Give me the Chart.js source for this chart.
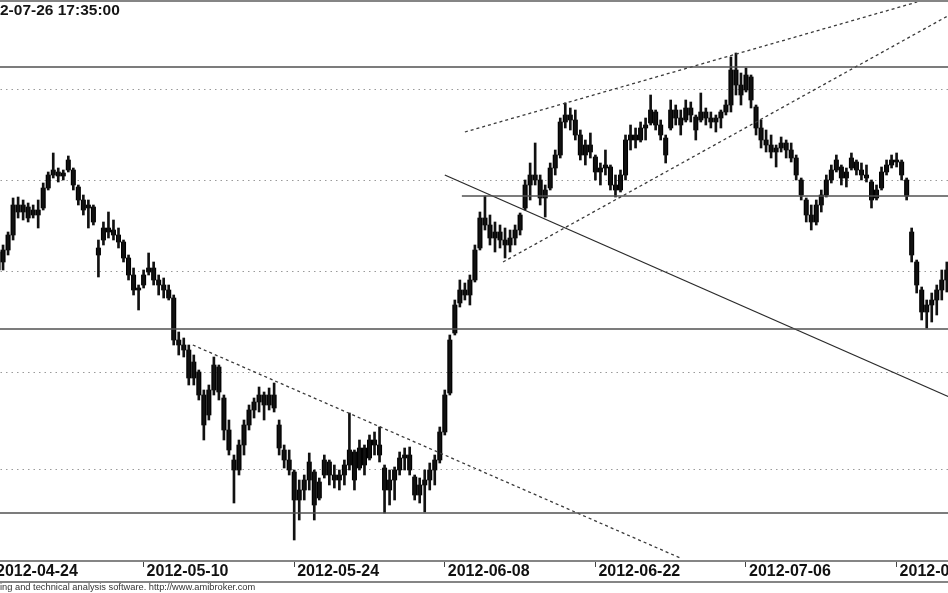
<!DOCTYPE html>
<html>
<head>
<meta charset="utf-8">
<script src="https://cdn.jsdelivr.net/npm/chart.js@4.4.1/dist/chart.umd.min.js"></script>
<style>
  html,body{margin:0;padding:0;background:#fff;}
  body{width:948px;height:593px;overflow:hidden;position:relative;}
  #c{position:absolute;left:-60px;top:0;}
  #title{position:absolute;top:1px;line-height:20px;font:bold 15.5px "Liberation Sans",Arial,sans-serif;color:#151515;white-space:nowrap;}
  #footer{position:absolute;top:582px;line-height:12px;font:9.3px "Liberation Sans",Arial,sans-serif;color:#333;white-space:nowrap;}
</style>
</head>
<body>
<canvas id="c" width="1080" height="593"></canvas>
<div id="title">2012-07-26 17:35:00</div>
<div id="footer">AmiBroker - charting and technical analysis software. http://www.amibroker.com</div>
<script>
// ---- data (bar index 1..190, three bars per trading day) ----
const firstBar = 1;
const tickBars  = [0, 30, 60, 90, 120, 150, 180];
const tickDates = ['2012-04-24','2012-05-10','2012-05-24','2012-06-08','2012-06-22','2012-07-06','2012-07-20'];

const highs = [2275,2277.5,2284,2301,2301.5,2300,2298.5,2297.5,2300,2308.5,
2314,2323.5,2316,2315,2322,2316,2307.5,2302.5,2300,2297.5,
2280,2289,2294,2290,2286,2280,2272.5,2266,2257.5,2265,
2273.5,2269,2262.5,2261,2257.5,2252.5,2234,2231,2227.5,2222.5,
2215,2205,2207.5,2221.5,2217.5,2202.5,2190,2172.5,2180,2190,
2197.5,2201,2206.5,2204,2206,2208.5,2190,2177.5,2175,2165,
2160,2162.5,2173.5,2165,2161,2172.5,2170,2167.5,2165,2170,
2193.5,2175,2180,2177.5,2182.5,2184,2186.5,2167.5,2165,2166.5,
2174,2176,2176.5,2162.5,2161,2165,2168.5,2172.5,2186.5,2205,
2232.5,2250,2260,2258.5,2262.5,2277.5,2294,2302,2292.5,2289,
2287.5,2286,2285,2287.5,2293.5,2310,2318.5,2328.5,2312.5,2307.5,
2318.5,2325,2341,2348.5,2346,2345,2335,2330,2333.5,2322.5,
2318.5,2325,2317.5,2312.5,2315,2332.5,2337.5,2336,2339,2341,
2352.5,2345,2340,2332.5,2350,2347.5,2345,2350,2349,2342.5,
2353.5,2346,2344,2342.5,2345,2350,2371.5,2373.5,2363.5,2366,
2362.5,2347.5,2340,2335,2332.5,2327.5,2331.5,2330,2328.5,2322.5,
2311,2301,2297.5,2300,2305,2312.5,2317.5,2322.5,2317.5,2316,
2323.5,2320,2318.5,2317.5,2310,2307.5,2316.5,2320,2322.5,2323.5,
2320,2311,2286,2270,2256.5,2250,2253.5,2257.5,2265,2269];

const lows = [2262.5,2265,2272.5,2280,2291,2290,2289,2291,2286,2295,
2305,2311,2309,2310,2314,2305,2297.5,2292.5,2286,2287.5,
2261.5,2277.5,2281,2280,2276,2269,2260,2252.5,2245,2256,
2262.5,2257.5,2252.5,2251,2250,2227.5,2222.5,2221.5,2207.5,2207.5,
2200,2180,2190,2202.5,2200,2180,2172.5,2148.5,2162.5,2172.5,
2185,2191,2194,2190,2195,2194,2172.5,2166,2162.5,2130,
2140,2150,2155,2140,2150,2161,2157.5,2156,2155,2157.5,
2165,2155,2165,2162.5,2170,2172.5,2169,2143.5,2147.5,2150,
2162.5,2165,2162.5,2150,2148.5,2144,2155,2157.5,2168.5,2182.5,
2202.5,2232.5,2246.5,2250,2247.5,2259,2275,2285,2277.5,2274,
2276,2271,2274,2277.5,2282.5,2295,2300,2307.5,2297.5,2291.5,
2305,2312.5,2321,2336,2335,2330,2320,2317.5,2321,2310,
2307.5,2312.5,2305,2301.5,2304,2310,2325,2326,2329,2330,
2337.5,2335,2330,2318.5,2335,2337.5,2332.5,2339,2339,2330,
2339,2337.5,2336,2334,2336,2342.5,2344,2352.5,2347.5,2354,
2346,2332.5,2326,2324,2321,2316.5,2324,2321,2319,2310,
2300,2289,2285,2287.5,2294,2301.5,2308.5,2314,2307.5,2306.5,
2315,2312.5,2310,2309,2296,2300,2305,2312.5,2316,2316.5,
2310,2300,2269,2253.5,2240,2236,2239,2242.5,2250,2254];

const opens = [2265,2269,2275,2282.5,2297.5,2294,2296.5,2292.5,2295,2296,
2306,2312.5,2314,2312,2315,2315,2306.5,2300,2296,2296.5,
2276,2280,2286,2285,2282.5,2279,2271,2262.5,2255,2257.5,
2264,2266,2260,2257.5,2255,2251,2230,2227.5,2225,2211,
2214,2202.5,2192.5,2205,2216.5,2201,2185,2170,2165,2177.5,
2187.5,2195,2199,2202.5,2197.5,2202.5,2187.5,2175,2170,2164,
2150,2155,2160,2164,2151,2162.5,2169,2162.5,2160,2162.5,
2167.5,2174,2166,2176,2171,2180,2177.5,2166,2155,2160,
2165,2171,2172.5,2161.5,2152.5,2157.5,2160,2165,2170,2184,
2203.5,2233.5,2248.5,2255,2252.5,2260,2276,2291,2287.5,2281,
2284,2280,2277.5,2281,2285,2296,2307.5,2312.5,2310,2301,
2306,2316,2322.5,2339,2342.5,2340,2332.5,2322.5,2327.5,2321.5,
2314,2316,2316.5,2307.5,2305,2312.5,2330,2332.5,2330,2336,
2338.5,2344,2337.5,2331,2336,2345,2341,2340,2346,2341.5,
2340,2344,2341,2339,2341,2344,2347.5,2365,2357.5,2355,
2361.5,2346.5,2336,2330,2327.5,2324,2326,2328.5,2325,2321,
2310,2300,2292.5,2289,2297.5,2302.5,2310,2315,2316.5,2311,
2316,2319,2315,2312.5,2309,2301,2306,2314,2317.5,2320,
2319,2310,2284,2269,2255,2244,2247.5,2250,2255,2260];

const closes = [2274,2275,2282.5,2297.5,2294,2297.5,2291,2295,2292.5,2306,
2312.5,2315,2312,2313.5,2320,2307.5,2300,2295,2297.5,2289,
2272.5,2286,2284,2282.5,2279,2271,2262.5,2255,2256,2262.5,
2266,2260,2257.5,2255,2251,2230,2227.5,2225,2211,2219,
2202.5,2187.5,2205,2217.5,2204,2185,2175,2165,2177.5,2187.5,
2195,2199,2202.5,2197.5,2202.5,2196,2176,2170,2165,2150,
2155,2160,2169,2147.5,2159,2170,2162.5,2160,2162.5,2167.5,
2175,2160,2176,2167.5,2180,2177.5,2172.5,2155,2160,2165,
2171,2172.5,2165,2152.5,2157.5,2160,2165,2170,2184,2202.5,
2230,2247.5,2255,2252.5,2260,2275,2291,2287.5,2281,2284,
2280,2277.5,2281,2285,2292.5,2307.5,2312.5,2310,2301,2305,
2316,2322.5,2339,2342.5,2340,2332.5,2322.5,2327.5,2324,2314,
2316,2317.5,2307.5,2305,2312.5,2330,2332.5,2330,2336,2337.5,
2345,2337.5,2332.5,2322.5,2345,2341,2337.5,2346,2342.5,2335,
2344,2341,2339,2341,2344,2347.5,2365,2357.5,2352.5,2362.5,
2350,2336,2330,2327.5,2324,2326,2328.5,2325,2321,2312.5,
2302.5,2292.5,2289,2297.5,2302.5,2310,2315,2320,2311,2314,
2321,2315,2312.5,2311,2300,2305,2314,2317.5,2320,2319,
2312.5,2302,2272.5,2257.5,2244,2247.5,2250,2255,2260,2265];

// dotted price grid levels and horizontal support/resistance levels
const gridValues  = [2355.5, 2310, 2264.5, 2214, 2165.5];
const levelValues = [2366.5, 2302, 2235.5, 2143.5];
const levelFrom   = [-11, 93.4, -11, -11];
const levelTo     = 205;

// trend lines: [startBar, startPrice, endBar, endPrice]
const trendDotDown  = [39.8, 2227.5, 136.9, 2121];
const trendSolid    = [90.0, 2312.5, 200, 2191];
const trendDotUpper = [94.0, 2334, 184.1, 2399];
const trendDotLower = [101.6, 2269, 195, 2398.7];

// ---- build datasets ----
const wickData = highs.map((h, k) => ({x: firstBar + k, y: [lows[k], h]}));
const bodyData = opens.map((o, k) => ({x: firstBar + k, y: [o, closes[k]]}));
const seg = t => [{x: t[0], y: t[1]}, {x: t[2], y: t[3]}];

const lineDs = (data, color, width, dash) => ({
  type: 'line', data, borderColor: color, borderWidth: width, borderDash: dash,
  pointRadius: 0, tension: 0, fill: false, order: 0
});

const datasets = [
  {type: 'bar', data: wickData, backgroundColor: '#111', barThickness: 2, grouped: false, order: 2},
  {type: 'bar', data: bodyData, backgroundColor: '#000', barThickness: 4.4, grouped: false, order: 2, minBarLength: 2},
];
levelValues.forEach((v, k) => {
  datasets.push(lineDs([{x: levelFrom[k], y: v}, {x: levelTo, y: v}], '#505050', 1.6, []));
});
datasets.push(lineDs(seg(trendSolid), '#2a2a2a', 1.3, []));
datasets.push(lineDs(seg(trendDotDown), '#3a3a3a', 1.3, [3, 3]));
datasets.push(lineDs(seg(trendDotUpper), '#3a3a3a', 1.3, [3, 3]));
datasets.push(lineDs(seg(trendDotLower), '#3a3a3a', 1.3, [3, 3]));

const framePlugin = {
  id: 'frame',
  afterDraw(chart) {
    const ctx = chart.ctx, xs = chart.scales.x;
    ctx.save();
    ctx.strokeStyle = '#858585';
    ctx.lineWidth = 2;
    ctx.beginPath();
    ctx.moveTo(0, 1); ctx.lineTo(chart.width, 1);
    ctx.moveTo(0, xs.bottom); ctx.lineTo(chart.width, xs.bottom);
    ctx.stroke();
    ctx.restore();
  }
};

new Chart(document.getElementById('c'), {
  type: 'bar',
  data: {datasets},
  options: {
    responsive: false,
    animation: false,
    devicePixelRatio: 1,
    layout: {padding: {left: 0, right: 0, top: 2, bottom: 11}},
    plugins: {legend: {display: false}, tooltip: {enabled: false}},
    scales: {
      x: {
        type: 'linear', position: 'bottom', offset: false,
        min: -10.558, max: 204.582,
        afterBuildTicks: s => { s.ticks = tickBars.map(v => ({value: v})); },
        afterFit: s => { s.height = 21; s.paddingLeft = 0; s.paddingRight = 0; },
        grid: {drawOnChartArea: false, drawTicks: true, tickLength: 6, color: '#444', tickWidth: 1, offset: false},
        border: {display: true, color: '#858585', width: 2},
        ticks: {
          autoSkip: false, maxRotation: 0, align: 'start', labelOffset: 3, padding: -5,
          color: '#111', font: {family: '"Liberation Sans", Arial, sans-serif', size: 16, weight: 'bold'},
          callback: v => tickDates[tickBars.indexOf(v)] || ''
        }
      },
      y: {
        type: 'linear', min: 2119.5, max: 2399,
        afterBuildTicks: s => { s.ticks = gridValues.map(v => ({value: v})); },
        afterFit: s => { s.width = 0; },
        grid: {drawTicks: false, color: '#9a9a9a', lineWidth: 1},
        border: {display: false, dash: [1.5, 4]},
        ticks: {display: false}
      }
    }
  },
  plugins: [framePlugin]
});

// crop the leading characters like the reference picture
const mctx = document.createElement('canvas').getContext('2d');
mctx.font = 'bold 15.5px "Liberation Sans", Arial, sans-serif';
document.getElementById('title').style.left = (-mctx.measureText('201').width) + 'px';
mctx.font = '9.3px "Liberation Sans", Arial, sans-serif';
document.getElementById('footer').style.left = (-mctx.measureText('AmiBroker - chart').width) + 'px';
</script>
</body>
</html>
